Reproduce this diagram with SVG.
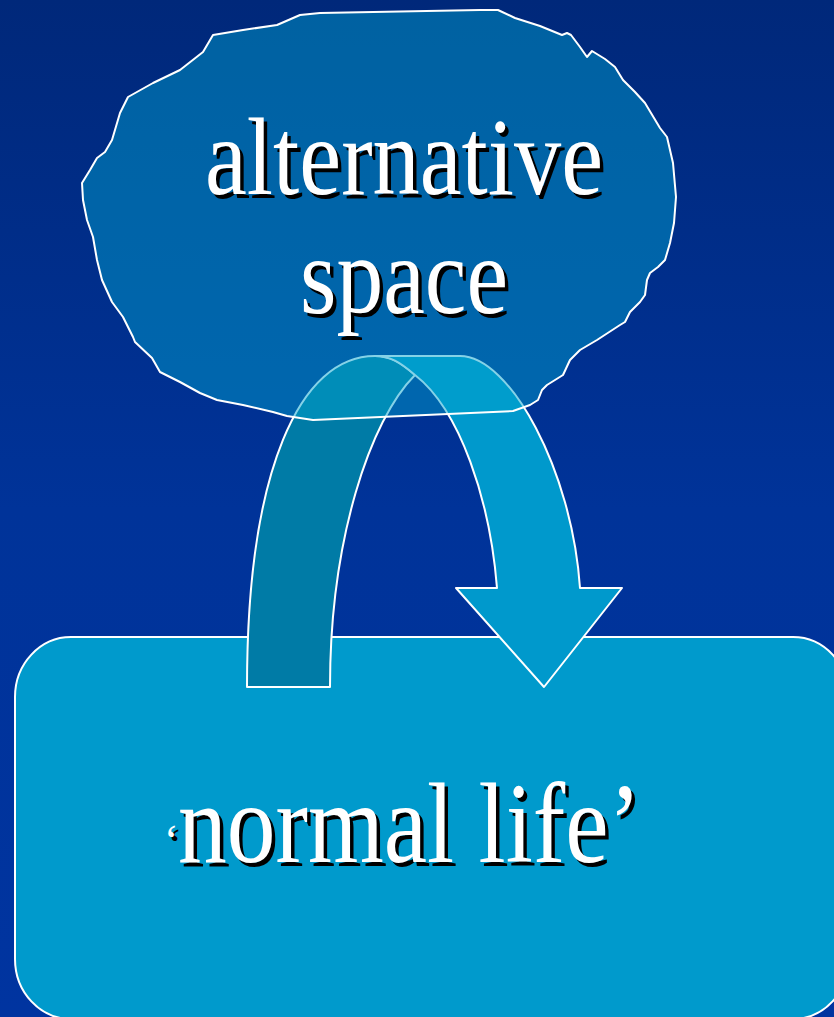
<svg xmlns="http://www.w3.org/2000/svg" width="834" height="1017" viewBox="0 0 834 1017">
<defs>
<linearGradient id="bg" x1="0" y1="0" x2="0" y2="1">
<stop offset="0" stop-color="#00287a"/>
<stop offset="0.5" stop-color="#003399"/>
<stop offset="1" stop-color="#0034a0"/>
</linearGradient>
<style>
.lbl{font-family:"Liberation Serif","Times New Roman",serif;fill:#ffffff}
.sh{font-family:"Liberation Serif","Times New Roman",serif;fill:#000000}
.edge{stroke:#ffffff;stroke-width:2;stroke-linejoin:round}
</style>
</defs>
<rect width="834" height="1017" fill="url(#bg)"/>
<g id="normal-life">
<rect x="15" y="637" width="834" height="382" rx="56" ry="60" fill="#009acc" class="edge"/>
<text class="sh" x="167.5" y="858.5" font-size="44">‘</text>
<text class="lbl" x="164" y="855" font-size="44">‘</text>
<text class="sh" x="181.5" y="865.5" font-size="115" textLength="463" lengthAdjust="spacingAndGlyphs">normal life’</text>
<text class="lbl" x="178" y="862" font-size="115" textLength="463" lengthAdjust="spacingAndGlyphs">normal life’</text>
</g>
<g id="connectors">
<path class="edge" fill="#007ba6" d="M247,687 C247,470 300,356 375,356 C390,356 400,362 415,375 C370,420 330,540 330,687 Z"/>
<path class="edge" fill="#0099cc" d="M375,356 L460,356 C510,356 572,470 580,588 L622,588 L544,687 L456,588 L497,588 C490,500 460,410 415,375 C400,362 390,356 375,356 Z"/>
</g>
<g id="alternative-space">
<path fill="#00a0cc" fill-opacity="0.48" stroke="#ffffff" stroke-width="2" stroke-linejoin="round" d="M300,15 L320,13 L480,10 L498,10 L515,18 L540,26 L562,35 L567,33 L571,35 L580,47 L587,57 L592,51 L605,59 L615,67 L623,80 L635,92 L645,103 L660,128 L667,137 L673,163 L676,197 L674,223 L670,243 L665,260 L658,267 L650,273 L647,280 L645,295 L640,302 L630,312 L625,322 L620,325 L597,340 L580,350 L570,360 L563,375 L547,385 L542,390 L538,400 L530,405 L513,411 L313,420 L287,416 L273,412 L243,405 L217,400 L200,393 L180,382 L160,372 L152,358 L135,342 L133,337 L123,317 L112,302 L102,280 L97,260 L93,237 L87,220 L83,200 L82,183 L90,170 L97,158 L105,152 L112,140 L120,113 L128,97 L153,83 L180,70 L203,52 L213,35 L243,30 L277,25 Z"/>
<text class="sh" x="208.5" y="197.5" font-size="110" textLength="398" lengthAdjust="spacingAndGlyphs">alternative</text>
<text class="lbl" x="205" y="194" font-size="110" textLength="398" lengthAdjust="spacingAndGlyphs">alternative</text>
<text class="sh" x="303.5" y="316.5" font-size="110" textLength="208" lengthAdjust="spacingAndGlyphs">space</text>
<text class="lbl" x="300" y="313" font-size="110" textLength="208" lengthAdjust="spacingAndGlyphs">space</text>
</g>
</svg>
